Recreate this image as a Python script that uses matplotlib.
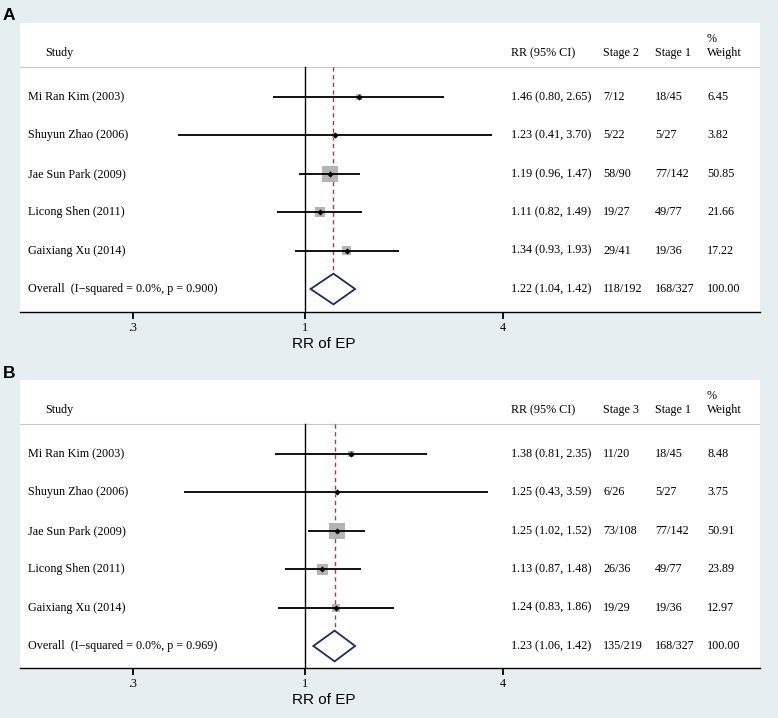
import numpy as np
import matplotlib.pyplot as plt
from matplotlib.patches import Polygon

studies = ['Mi Ran Kim (2003)', 'Shuyun Zhao (2006)', 'Jae Sun Park (2009)',
           'Licong Shen (2011)', 'Gaixiang Xu (2014)']

# panel A: stage 2 vs stage 1
rr_a = [1.46, 1.23, 1.19, 1.11, 1.34]
lo_a = [0.80, 0.41, 0.96, 0.82, 0.93]
hi_a = [2.65, 3.70, 1.47, 1.49, 1.93]
grp_a = ['7/12', '5/22', '58/90', '19/27', '29/41']
ref_a = ['18/45', '5/27', '77/142', '49/77', '19/36']
wt_a = [6.45, 3.82, 50.85, 21.66, 17.22]
overall_a = (1.22, 1.04, 1.42, '118/192', '168/327', 0.900)

# panel B: stage 3 vs stage 1
rr_b = [1.38, 1.25, 1.25, 1.13, 1.24]
lo_b = [0.81, 0.43, 1.02, 0.87, 0.83]
hi_b = [2.35, 3.59, 1.52, 1.48, 1.86]
grp_b = ['11/20', '6/26', '73/108', '26/36', '19/29']
ref_b = ['18/45', '5/27', '77/142', '49/77', '19/36']
wt_b = [8.48, 3.75, 50.91, 23.89, 12.97]
overall_b = (1.23, 1.06, 1.42, '135/219', '168/327', 0.969)

ticks = [0.3, 1, 4]
tick_labels = ['.3', '1', '4']

W, H = 778, 718
bg = '#e6eef1'
serif = 'Liberation Serif'
fs = 8.7

fig = plt.figure(figsize=(W / 100, H / 100), dpi=100, facecolor=bg)

# px per ln unit, x=1 at px 305, axes from px 20 to 760
k = 142.9
xmin = np.exp((20 - 305) / k)
xmax = np.exp((760 - 305) / k)


def forest(top_px, bottom_px, letter, rr, lo, hi, grp, ref, wt, overall, grp_name):
    ax = fig.add_axes([20 / W, 1 - bottom_px / H, 740 / W, (bottom_px - top_px) / H])
    ax.set_facecolor('white')
    ax.set_xscale('log')
    ax.set_xlim(xmin, xmax)
    # rows at 1..6, 38.4 px apart
    ax.set_ylim((bottom_px - top_px - 35.6) / 38.4, -35.6 / 38.4)
    for s in ['top', 'left', 'right']:
        ax.spines[s].set_visible(False)
    ax.spines['bottom'].set_linewidth(1.0)
    ax.set_yticks([])
    ax.set_xticks(ticks)
    ax.set_xticklabels(tick_labels, fontfamily=serif, fontsize=fs)
    ax.xaxis.set_minor_locator(plt.NullLocator())
    ax.tick_params(axis='x', direction='out', length=5, width=1.3, pad=2.5)

    tr = ax.get_yaxis_transform()
    hdr = 0.22
    ax.plot([0, 1], [hdr, hdr], transform=tr, color='#c8c8c8', lw=0.8)

    ov_rr, ov_lo, ov_hi, ov_g, ov_r, ov_p = overall
    n = len(studies)
    ax.plot([1, 1], [hdr, 6.6], color='black', lw=1.0, zorder=2)
    ax.plot([ov_rr, ov_rr], [hdr, n + 1.4], color='#b03c3c', lw=1.0,
            ls=(0, (3, 2.5)), zorder=3)

    ys = np.arange(1, n + 1)
    sizes = [(16 * np.sqrt(w / 50.85) * 0.72) ** 2 for w in wt]
    ax.scatter(rr, ys, s=sizes, marker='s', color='#b4b4b4', zorder=4, lw=0)
    ax.hlines(ys, lo, hi, color='black', lw=1.3, zorder=5)
    ax.scatter(rr, ys, s=10, marker='D', color='black', zorder=6, lw=0)

    yo = n + 1
    dia = Polygon([[ov_lo, yo], [ov_rr, yo - 0.4], [ov_hi, yo], [ov_rr, yo + 0.4]],
                  closed=True, facecolor='white', edgecolor='#1c2a66', lw=1.3, zorder=5)
    ax.add_patch(dia)

    def px(x):
        return (x - 20) / 740

    ax.text(px(45), -0.15, 'Study', transform=tr, fontfamily=serif, fontsize=fs, va='center')
    ax.text(px(511), -0.15, 'RR (95% CI)', transform=tr, fontfamily=serif, fontsize=fs, va='center')
    ax.text(px(603), -0.15, grp_name, transform=tr, fontfamily=serif, fontsize=fs, va='center')
    ax.text(px(655), -0.15, 'Stage 1', transform=tr, fontfamily=serif, fontsize=fs, va='center')
    ax.text(px(707), -0.15, 'Weight', transform=tr, fontfamily=serif, fontsize=fs, va='center')
    ax.text(px(707), -0.52, '%', transform=tr, fontfamily=serif, fontsize=fs, va='center')

    labels = studies + ['Overall  (I\u2212squared = 0.0%%, p = %.3f)' % ov_p]
    ci = ['%.2f (%.2f, %.2f)' % (a, b, c) for a, b, c in zip(rr, lo, hi)]
    ci.append('%.2f (%.2f, %.2f)' % (ov_rr, ov_lo, ov_hi))
    gcol = grp + [ov_g]
    rcol = ref + [ov_r]
    wcol = ['%.2f' % w for w in wt] + ['100.00']
    for i in range(n + 1):
        y = i + 1
        ax.text(px(28), y, labels[i], transform=tr, fontfamily=serif, fontsize=fs, va='center')
        ax.text(px(511), y, ci[i], transform=tr, fontfamily=serif, fontsize=fs, va='center')
        ax.text(px(603), y, gcol[i], transform=tr, fontfamily=serif, fontsize=fs, va='center')
        ax.text(px(655), y, rcol[i], transform=tr, fontfamily=serif, fontsize=fs, va='center')
        ax.text(px(707), y, wcol[i], transform=tr, fontfamily=serif, fontsize=fs, va='center')

    fig.text(324 / W, 1 - (bottom_px + 32) / H, 'RR of EP', fontfamily='Liberation Sans',
             fontsize=11, ha='center', va='center')
    fig.text(3 / W, 1 - (top_px - 7) / H, letter, fontfamily='Liberation Sans',
             fontweight='bold', fontsize=12.5, ha='left', va='center')
    return ax


forest(23, 312, 'A', rr_a, lo_a, hi_a, grp_a, ref_a, wt_a, overall_a, 'Stage 2')
forest(380, 668, 'B', rr_b, lo_b, hi_b, grp_b, ref_b, wt_b, overall_b, 'Stage 3')

plt.savefig('out.png', dpi=100, facecolor=bg)
